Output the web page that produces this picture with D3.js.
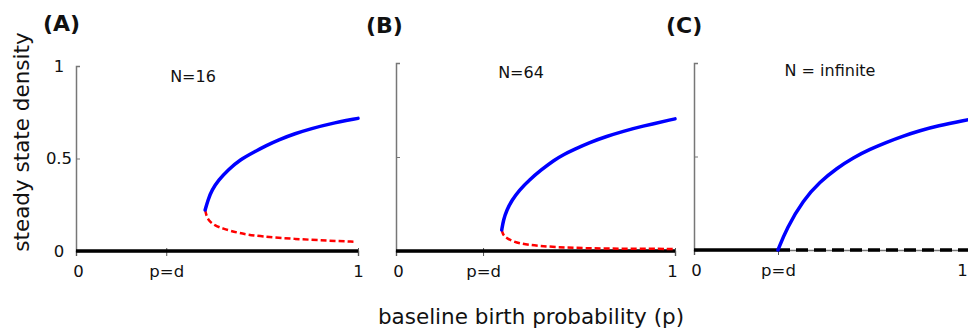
<!DOCTYPE html>
<html>
<head>
<meta charset="utf-8">
<script src="https://cdn.jsdelivr.net/npm/d3@7"></script>
<style>
    body { margin: 0; background: #fff; }
    svg { display: block; font-family: "DejaVu Sans", Verdana, sans-serif; }
</style>
</head>
<body>
<svg id="chart" width="968" height="331"></svg>
<script>
//Panel texts and tick labels
var panelLetters = ["(A)", "(B)", "(C)"];
var panelTitles = ["N=16", "N=64", "N = infinite"];
var xTickLabels = ["0", "p=d", "1"];
var yTickValues = [0, 0.5, 1];
var yTickLabels = ["0", "0.5", "1"];

//Where p=d sits in each panel
var dValues = [0.32, 0.312, 0.30];

//Stable (blue) and unstable (red) branches, [p, density]
var stableA = [[0.458, 0.222], [0.468, 0.276], [0.482, 0.330], [0.506, 0.384], [0.539, 0.438],
    [0.580, 0.492], [0.634, 0.537], [0.675, 0.570], [0.717, 0.600], [0.777, 0.635],
    [0.836, 0.662], [0.895, 0.686], [1.0, 0.717]];
var unstableA = [[0.458, 0.222], [0.463, 0.185], [0.475, 0.158], [0.493, 0.138], [0.517, 0.123],
    [0.576, 0.096], [0.659, 0.077], [0.777, 0.065], [0.895, 0.056], [0.99, 0.050]];

var stableB = [[0.379, 0.112], [0.385, 0.165], [0.397, 0.218], [0.416, 0.271], [0.442, 0.324],
    [0.478, 0.378], [0.520, 0.431], [0.567, 0.484], [0.603, 0.515], [0.635, 0.538],
    [0.695, 0.578], [0.755, 0.610], [0.815, 0.637], [0.875, 0.661], [1.0, 0.703]];
var unstableB = [[0.379, 0.112], [0.383, 0.090], [0.391, 0.074], [0.420, 0.049], [0.468, 0.032],
    [0.576, 0.020], [0.695, 0.014], [0.815, 0.012], [1.0, 0.011]];

var stableC = [[0.30, 0.0], [0.331, 0.116], [0.390, 0.267], [0.45, 0.365], [0.510, 0.437],
    [0.569, 0.494], [0.629, 0.539], [0.688, 0.576], [0.748, 0.610], [0.807, 0.638],
    [0.867, 0.663], [0.974, 0.695], [1.0, 0.702]];
var unstableC = [];

//Zero-density solution: solid where stable, dashed where unstable
var zeroStable = [[[0, 0], [1, 0]], [[0, 0], [1, 0]], [[0, 0], [0.30, 0]]];
var zeroUnstable = [[], [], [[0.30, 0], [1, 0]]];

var stableSets = [stableA, stableB, stableC];
var unstableSets = [unstableA, unstableB, unstableC];

//Panel placement
var panels = [
    { left: 76, right: 358, top: 66, bottom: 251, letterX: 43, letterY: 31, titleX: 193, titleY: 82, yLabels: true, lastDx: 0 },
    { left: 396, right: 675, top: 63, bottom: 251, letterX: 366, letterY: 33, titleX: 521, titleY: 78, yLabels: false, lastDx: -3 },
    { left: 694, right: 974, top: 63, bottom: 250, letterX: 666, letterY: 33, titleX: 830, titleY: 76, yLabels: false, lastDx: -12 }
];

var svg = d3.select("#chart");

svg.append("rect")
    .attr("width", 968)
    .attr("height", 331)
    .attr("fill", "#fff");

panels.forEach(function (panel, i) {
    var x = d3.scaleLinear().domain([0, 1]).range([panel.left, panel.right]);
    var y = d3.scaleLinear().domain([0, 1]).range([panel.bottom, panel.top]);

    var line = d3.line()
        .x(function (d) { return x(d[0]); })
        .y(function (d) { return y(d[1]); })
        .curve(d3.curveBasis);

    var g = svg.append("g").attr("id", "panel" + i);

    //x axis
    var xAxis = d3.axisBottom(x)
        .tickValues([0, dValues[i], 1])
        .tickFormat(function (d, k) { return xTickLabels[k]; })
        .tickSize(5)
        .tickPadding(9);

    var xg = g.append("g")
        .attr("transform", "translate(0," + panel.bottom + ")")
        .call(xAxis);
    xg.select(".domain").attr("stroke", "#777").attr("stroke-width", 1.5);
    xg.selectAll(".tick line").attr("stroke", "#555").attr("y1", -3);
    xg.selectAll(".tick text")
        .attr("font-size", "16.5px")
        .attr("fill", "#111")
        .attr("font-family", "DejaVu Sans, sans-serif")
        .attr("dx", function (d, k) { return k === 2 ? panel.lastDx : (k === 0 ? 2 : 0); });

    //y axis
    var yAxis = d3.axisLeft(y)
        .tickValues(yTickValues)
        .tickFormat(function (d, k) { return panel.yLabels ? yTickLabels[k] : ""; })
        .tickSize(-4)
        .tickPadding(10);

    var yg = g.append("g")
        .attr("transform", "translate(" + panel.left + ",0)")
        .call(yAxis);
    yg.select(".domain").attr("stroke", "#777").attr("stroke-width", 1.5);
    yg.selectAll(".tick line").attr("stroke", "#777");
    yg.selectAll(".tick text")
        .attr("text-anchor", "middle")
        .attr("x", -17)
        .attr("font-size", "16.5px")
        .attr("fill", "#111")
        .attr("font-family", "DejaVu Sans, sans-serif");

    //zero solution
    g.append("path")
        .datum(zeroStable[i])
        .attr("d", line)
        .attr("fill", "none")
        .attr("stroke", "#000")
        .attr("stroke-width", 3.5);

    if (zeroUnstable[i].length) {
        g.append("path")
            .datum(zeroUnstable[i])
            .attr("d", line)
            .attr("fill", "none")
            .attr("stroke", "#000")
            .attr("stroke-width", 3.5)
            .attr("stroke-dasharray", "12,6");
    }

    //unstable branch
    if (unstableSets[i].length) {
        g.append("path")
            .datum(unstableSets[i])
            .attr("d", line)
            .attr("fill", "none")
            .attr("stroke", "#ff0000")
            .attr("stroke-width", 2.5)
            .attr("stroke-dasharray", "6,3");
    }

    //stable branch
    g.append("path")
        .datum(stableSets[i])
        .attr("d", line)
        .attr("fill", "none")
        .attr("stroke", "#0000ff")
        .attr("stroke-width", 3.5)
        .attr("stroke-linecap", "round");

    //labels
    g.append("text")
        .attr("x", panel.letterX)
        .attr("y", panel.letterY)
        .text(panelLetters[i])
        .attr("font-size", "22px")
        .attr("font-weight", "bold")
        .attr("fill", "#111");

    g.append("text")
        .attr("x", panel.titleX)
        .attr("y", panel.titleY)
        .text(panelTitles[i])
        .attr("text-anchor", "middle")
        .attr("font-size", "16px")
        .attr("fill", "#111");
});

//shared axis titles
svg.append("text")
    .attr("transform", "translate(29,142) rotate(-90)")
    .text("steady state density")
    .attr("text-anchor", "middle")
    .attr("font-size", "21.5px")
    .attr("fill", "#111");

svg.append("text")
    .attr("x", 531)
    .attr("y", 324)
    .text("baseline birth probability (p)")
    .attr("text-anchor", "middle")
    .attr("font-size", "21.5px")
    .attr("fill", "#111");
</script>
</body>
</html>
